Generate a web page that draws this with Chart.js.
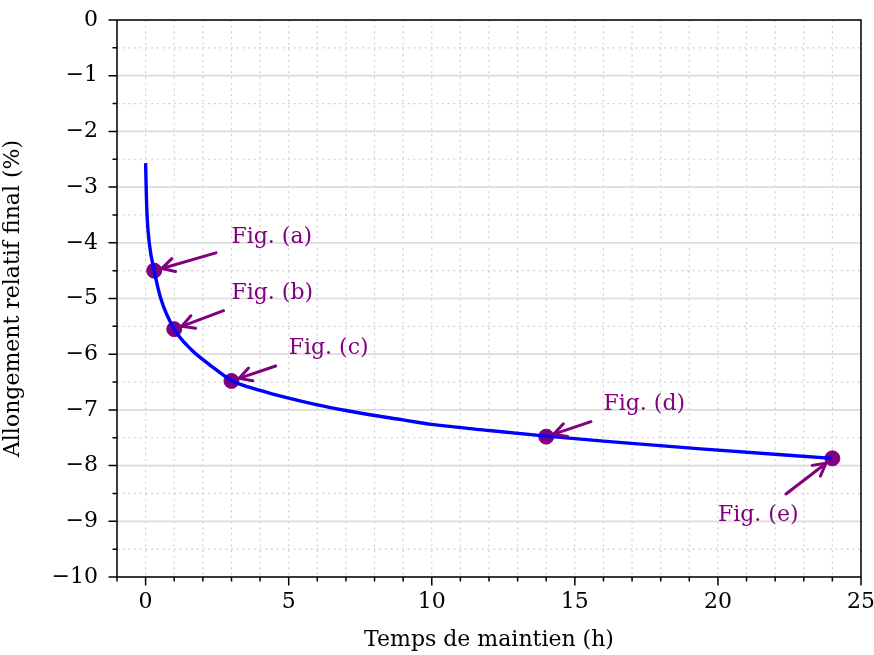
<!DOCTYPE html>
<html>
<head>
<meta charset="utf-8">
<script src="https://cdn.jsdelivr.net/npm/chart.js@4/dist/chart.umd.min.js"></script>
<style>
  html, body { margin: 0; padding: 0; background: #fff; }
  #wrap { width: 874px; height: 655px; }
</style>
</head>
<body>
<div id="wrap"><canvas id="chart"></canvas></div>
<script>
// --- Data ---
// Blue curve: final relative elongation vs holding time
const curveX = [0, 0.02, 0.05, 0.13, 0.3, 0.53, 1, 1.6, 2.24, 3, 4, 5, 6, 7, 8, 9, 10, 12, 14, 16, 19.4, 24];
const curveY = [-2.57, -3.02, -3.5, -4.01, -4.5, -5.0, -5.55, -5.92, -6.19, -6.47, -6.65, -6.79, -6.91, -7.01, -7.10, -7.18, -7.26, -7.37, -7.47, -7.56, -7.70, -7.87];

// Highlighted points and their annotations
const figX = [0.3, 1, 3, 14, 24];
const figY = [-4.5, -5.55, -6.48, -7.48, -7.87];
const figLabels = ['Fig. (a)', 'Fig. (b)', 'Fig. (c)', 'Fig. (d)', 'Fig. (e)'];
const labelX = [3, 3, 5, 16, 20];
const labelY = [-4, -5, -6, -7, -9];

// Axis ticks
const xTicks = [0, 5, 10, 15, 20, 25];
const yTicks = [0, -1, -2, -3, -4, -5, -6, -7, -8, -9, -10];

const FONT = 'DejaVu Serif';
const PURPLE = '#800080';
Chart.defaults.font.family = FONT;
Chart.defaults.font.size = 22;
Chart.defaults.color = '#000';

const fmt = v => (v < 0 ? '\u2212' + Math.abs(v) : String(v));

// grid lines (drawn under the data)
const gridPlugin = {
  id: 'grid',
  beforeDatasetsDraw(chart) {
    const { ctx, chartArea: a, scales: { x, y } } = chart;
    ctx.save();
    ctx.lineWidth = 1.2;
    ctx.strokeStyle = '#d0d0d0';
    ctx.setLineDash([2, 3.7]);
    for (let v = -1; v <= 25; v++) {
      const px = x.getPixelForValue(v);
      ctx.beginPath(); ctx.moveTo(px, a.top); ctx.lineTo(px, a.bottom); ctx.stroke();
    }
    for (let v = -9.5; v < 0; v += 1) {
      const py = y.getPixelForValue(v);
      ctx.beginPath(); ctx.moveTo(a.left, py); ctx.lineTo(a.right, py); ctx.stroke();
    }
    ctx.setLineDash([]);
    ctx.strokeStyle = '#dcdcdc';
    ctx.lineWidth = 1.7;
    yTicks.forEach(v => {
      const py = y.getPixelForValue(v);
      ctx.beginPath(); ctx.moveTo(a.left, py); ctx.lineTo(a.right, py); ctx.stroke();
    });
    ctx.restore();
  }
};

// frame, tick marks, annotations
const framePlugin = {
  id: 'frame',
  afterDatasetsDraw(chart) {
    const { ctx, chartArea: a, scales: { x, y } } = chart;
    ctx.save();
    ctx.strokeStyle = '#000';
    ctx.lineWidth = 1.5;
    ctx.strokeRect(a.left, a.top, a.right - a.left, a.bottom - a.top);
    ctx.beginPath();
    for (let v = -1; v <= 25; v++) {
      const px = x.getPixelForValue(v);
      const len = xTicks.includes(v) ? 8.5 : 4.5;
      ctx.moveTo(px, a.bottom); ctx.lineTo(px, a.bottom + len);
    }
    for (let v = -10; v <= 0; v += 0.5) {
      const py = y.getPixelForValue(v);
      const len = Number.isInteger(v) ? 8.5 : 4.5;
      ctx.moveTo(a.left, py); ctx.lineTo(a.left - len, py);
    }
    ctx.stroke();

    // annotations
    ctx.font = '22px "' + FONT + '"';
    ctx.fillStyle = PURPLE;
    ctx.strokeStyle = PURPLE;
    ctx.lineWidth = 3;
    ctx.lineCap = 'round';
    ctx.lineJoin = 'round';
    ctx.textAlign = 'left';
    ctx.textBaseline = 'alphabetic';
    figLabels.forEach((lbl, i) => {
      const tx = x.getPixelForValue(labelX[i]);
      const ty = y.getPixelForValue(labelY[i]);
      ctx.fillText(lbl, tx, ty);
      const w = ctx.measureText(lbl).width;
      const cx = tx + w / 2, cy = ty - 6;
      const px = x.getPixelForValue(figX[i]);
      const py = y.getPixelForValue(figY[i]);
      let dx = px - cx, dy = py - cy;
      const d = Math.hypot(dx, dy);
      dx /= d; dy /= d;
      // exit of the text box (half sizes) + margin
      const hw = w / 2 + 4, hh = 14;
      const t = Math.min(Math.abs(hw / (dx || 1e-9)), Math.abs(hh / (dy || 1e-9))) + 12;
      const sx = cx + dx * t, sy = cy + dy * t;
      const ex = px - dx * 8, ey = py - dy * 8;
      ctx.beginPath(); ctx.moveTo(sx, sy); ctx.lineTo(ex, ey); ctx.stroke();
      const ang = Math.atan2(dy, dx), hl = 14, ha = 0.5;
      ctx.beginPath();
      ctx.moveTo(ex - hl * Math.cos(ang - ha), ey - hl * Math.sin(ang - ha));
      ctx.lineTo(ex, ey);
      ctx.lineTo(ex - hl * Math.cos(ang + ha), ey - hl * Math.sin(ang + ha));
      ctx.stroke();
    });
    ctx.restore();
  }
};

const ctx = document.getElementById('chart').getContext('2d');
new Chart(ctx, {
  type: 'line',
  data: {
    datasets: [{
      label: 'curve',
      data: curveX.map((v, i) => ({ x: v, y: curveY[i] })),
      borderColor: '#0000ff',
      borderWidth: 3.4,
      pointRadius: 0,
      cubicInterpolationMode: 'monotone',
      fill: false,
      order: 0
    }, {
      type: 'scatter',
      label: 'figs',
      data: figX.map((v, i) => ({ x: v, y: figY[i] })),
      backgroundColor: PURPLE,
      borderColor: PURPLE,
      pointRadius: 7.5,
      showLine: false,
      order: 1
    }]
  },
  options: {
    responsive: true,
    maintainAspectRatio: false,
    animation: false,
    events: [],
    layout: { padding: { top: 20, right: 13, left: 0, bottom: 0 } },
    plugins: { legend: { display: false }, tooltip: { enabled: false } },
    scales: {
      x: {
        type: 'linear',
        min: -1, max: 25,
        grid: { display: false, drawTicks: false },
        border: { display: false },
        ticks: {
          stepSize: 1,
          autoSkip: false,
          maxRotation: 0,
          padding: 12,
          callback: v => (xTicks.includes(v) ? fmt(v) : '')
        },
        title: { display: true, text: 'Temps de maintien (h)', padding: { top: 0, bottom: 2 } },
        afterFit: s => { s.height = 78; s.paddingLeft = 0; s.paddingRight = 0; }
      },
      y: {
        min: -10, max: 0,
        grid: { display: false, drawTicks: false },
        border: { display: false },
        ticks: {
          stepSize: 1,
          autoSkip: false,
          padding: 19,
          callback: v => fmt(v)
        },
        title: { display: true, text: 'Allongement relatif final (%)', padding: { top: 0, bottom: 10 } },
        afterFit: s => { s.width = 117; s.paddingTop = 0; s.paddingBottom = 0; }
      }
    }
  },
  plugins: [gridPlugin, framePlugin]
});
</script>
</body>
</html>
